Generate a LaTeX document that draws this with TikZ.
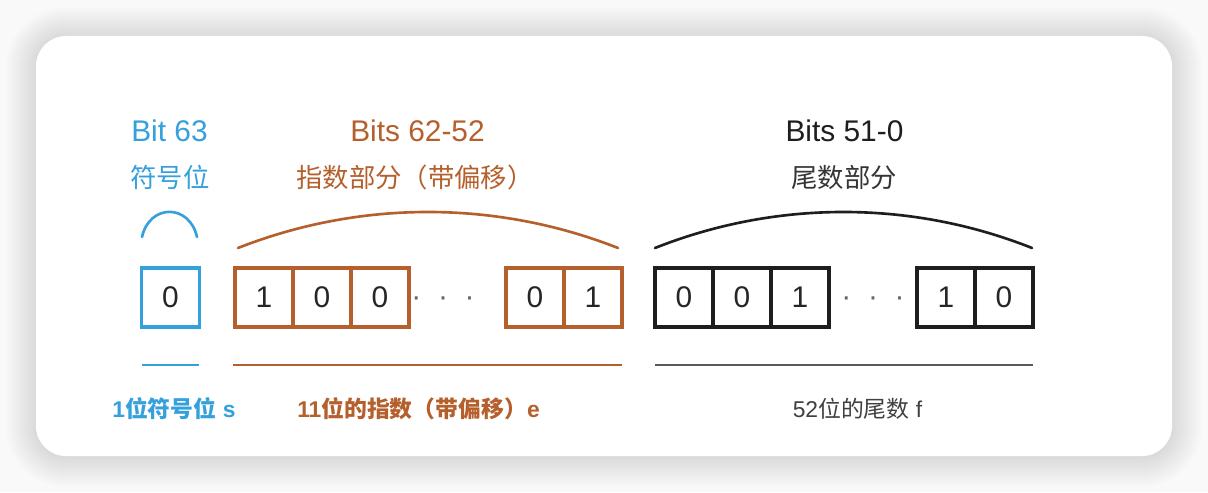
\documentclass[tikz,border=0pt]{standalone}
\usepackage{fontspec}
\setmainfont{Liberation Sans}
\newfontfamily\cjk{Noto Sans CJK SC}
\definecolor{signblue}{RGB}{52,160,220}
\definecolor{expbrown}{RGB}{181,96,44}
\definecolor{fracblack}{RGB}{30,30,30}
\begin{document}
\begin{tikzpicture}[every node/.style={inner sep=0pt},
    cell/.style={draw, line width=2pt, minimum width=1.16cm, minimum height=1.18cm, text=black!85, font=\fontsize{17pt}{20pt}\selectfont},
    dotsep/.style={text=black!60, font=\fontsize{17pt}{20pt}\selectfont},
    title/.style={font=\fontsize{17pt}{20pt}\selectfont},
    part/.style={font=\fontsize{15pt}{18pt}\selectfont\cjk},
    note/.style={font=\fontsize{13pt}{16pt}\selectfont},
    boldnote/.style={font=\fontsize{13pt}{16pt}\selectfont\bfseries},
    brace/.style={line width=1.5pt, line cap=round},
    rule/.style={line width=1.1pt}]
    \useasboundingbox (0,0) rectangle (24.16,9.84);
    \fill[gray!5] (0,0) rectangle (24.16,9.84);
    % soft shadow round the card
    \foreach \d in {0.04,0.08,...,0.64}
        \fill[black, opacity=0.009, rounded corners=0.6cm+\d cm] (0.72-\d,0.70-\d) rectangle (23.44+\d,9.10+\d);
    \fill[white, rounded corners=0.6cm] (0.72,0.72) rectangle (23.44,9.12);

    % sign bit
    \node[title, text=signblue] (sTitle) at (3.39,7.22) {Bit 63};
    \node[part, text=signblue] (sPart) at (3.40,6.29) {符号位};
    \coordinate (sL) at (2.84,5.10);
    \coordinate (sR) at (3.94,5.10);
    \draw[brace, signblue] (sL) .. controls +(0.15,0.67) and +(-0.15,0.67) .. (sR);
    \node[cell, draw=signblue] (s0) at (3.41,3.89) {0};
    \coordinate (sRuleL) at (2.84,2.54);
    \coordinate (sRuleR) at (3.98,2.54);
    \draw[rule, signblue] (sRuleL) -- (sRuleR);
    \node[boldnote, text=signblue] (sNote) at (3.48,1.66) {1{\cjk 位符号位} s};

    % exponent
    \node[title, text=expbrown] (eTitle) at (8.35,7.22) {Bits 62-52};
    \node[part, text=expbrown] (ePart) at (8.30,6.29) {指数部分（带偏移）};
    \coordinate (eL) at (4.76,4.88);
    \coordinate (eR) at (12.36,4.88);
    \draw[brace, expbrown] (eL) .. controls +(2.44,0.96) and +(-2.44,0.96) .. (eR);
    \node[cell, draw=expbrown] (e1) at (5.28,3.89) {1};
    \node[cell, draw=expbrown] (e2) at (6.44,3.89) {0};
    \node[cell, draw=expbrown] (e3) at (7.60,3.89) {0};
    \node[dotsep] (eDots) at (8.86,3.80) {·\hspace{0.334cm}·\hspace{0.334cm}·};
    \node[cell, draw=expbrown] (e4) at (10.70,3.89) {0};
    \node[cell, draw=expbrown] (e5) at (11.86,3.89) {1};
    \coordinate (eRuleL) at (4.66,2.54);
    \coordinate (eRuleR) at (12.44,2.54);
    \draw[rule, expbrown] (eRuleL) -- (eRuleR);
    \node[boldnote, text=expbrown] (eNote) at (8.37,1.66) {11{\cjk 位的指数（带偏移）}e};

    % fraction
    \node[title, text=fracblack] (fTitle) at (16.89,7.22) {Bits 51-0};
    \node[part, text=fracblack!90] (fPart) at (16.88,6.29) {尾数部分};
    \coordinate (fL) at (13.10,4.88);
    \coordinate (fR) at (20.64,4.88);
    \draw[brace, fracblack] (fL) .. controls +(2.42,0.96) and +(-2.42,0.96) .. (fR);
    \node[cell, draw=fracblack] (f1) at (13.68,3.89) {0};
    \node[cell, draw=fracblack] (f2) at (14.84,3.89) {0};
    \node[cell, draw=fracblack] (f3) at (16.00,3.89) {1};
    \node[dotsep] (fDots) at (17.46,3.80) {·\hspace{0.334cm}·\hspace{0.334cm}·};
    \node[cell, draw=fracblack] (f4) at (18.92,3.89) {1};
    \node[cell, draw=fracblack] (f5) at (20.08,3.89) {0};
    \coordinate (fRuleL) at (13.10,2.54);
    \coordinate (fRuleR) at (20.66,2.54);
    \draw[rule, black!65] (fRuleL) -- (fRuleR);
    \node[note, text=black!75] (fNote) at (17.15,1.66) {52{\cjk 位的尾数} f};
\end{tikzpicture}
\end{document}
